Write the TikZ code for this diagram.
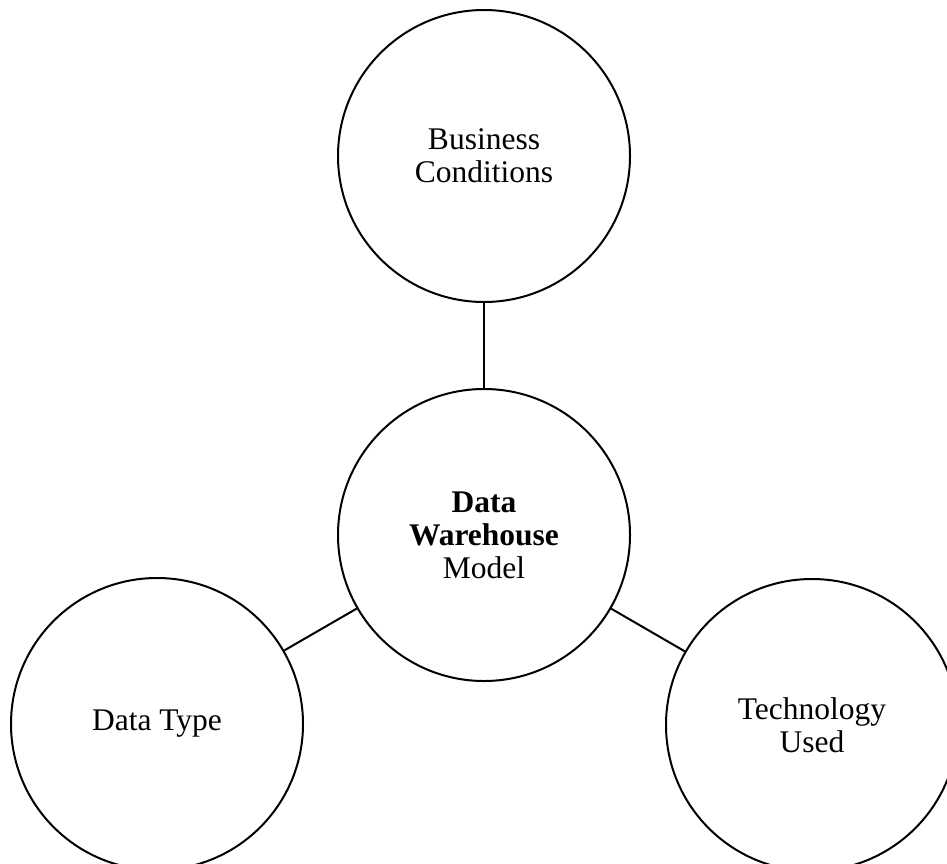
\documentclass[tikz,border=0pt]{standalone}
\usepackage{fontspec}
\setmainfont{Liberation Serif}
\begin{document}
\begin{tikzpicture}[x=1pt,y=-1pt,
  bubble/.style={draw,circle,line width=2pt,minimum size=292pt,inner sep=0pt,align=center,
    font=\fontsize{31.5}{33}\selectfont},
  link/.style={line width=2pt}]
\useasboundingbox (0,0) rectangle (947,863);
\clip (0,0) rectangle (947,863);
\node[bubble] (bc) at (484,156) {Business\\Conditions};
\node[bubble] (dw) at (484,535) {\textbf{Data}\\\textbf{Warehouse}\\Model};
\node[bubble] (dt) at (157,724) {Data Type};
\node[bubble] (tu) at (812,725) {Technology\\Used};
\draw[link] (bc) -- (dw);
\draw[link] (dw) -- (dt);
\draw[link] (dw) -- (tu);
\end{tikzpicture}
\end{document}
